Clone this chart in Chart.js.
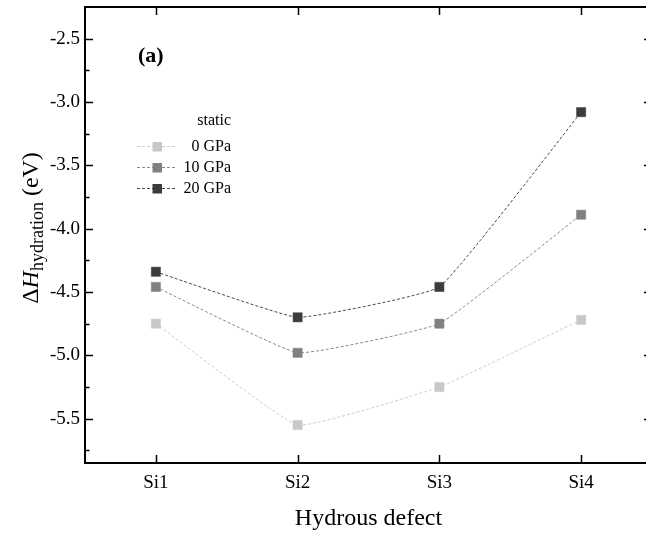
<!DOCTYPE html>
<html><head><meta charset="utf-8">
<script src="https://cdn.jsdelivr.net/npm/chart.js@4.4.1/dist/chart.umd.min.js"></script>
<style>
html,body{margin:0;padding:0;background:#fff;overflow:hidden;width:646px;height:533px}
#wrap{width:662px;height:533px}
</style></head><body>
<div id="wrap"><canvas id="c" width="662" height="533"></canvas></div>
<script>
const categories = ['Si1', 'Si2', 'Si3', 'Si4'];
const seriesNames = ['0 GPa', '10 GPa', '20 GPa'];
const gpa0 = [-4.75, -5.55, -5.25, -4.72];
const gpa10 = [-4.46, -4.98, -4.75, -3.89];
const gpa20 = [-4.34, -4.70, -4.46, -3.08];
const yTicks = [-5.5, -5.0, -4.5, -4.0, -3.5, -3.0, -2.5];
const yMinorTicks = [-5.75, -5.25, -4.75, -4.25, -3.75, -3.25, -2.75];
const yMin = -5.85, yMax = -2.25;
const legendTitle = 'static';
const panelLabel = '(a)';

const markerColors = ['#c8c8c8', '#808080', '#3c3c3c'];
const lineColors = ['#cdcdcd', '#8a8a8a', '#4a4a4a'];
const FONT = 'Liberation Serif';

function mkDataset(i, data) {
  return {
    label: seriesNames[i], data: data,
    borderColor: lineColors[i], borderWidth: 1, borderDash: [3, 2],
    backgroundColor: markerColors[i],
    pointStyle: 'rect', pointRadius: 6.5, pointHoverRadius: 6.5,
    pointBackgroundColor: markerColors[i], pointBorderColor: markerColors[i], pointBorderWidth: 0.5,
    tension: 0.1, clip: false
  };
}

const framePlugin = {
  id: 'frame',
  afterDraw(chart) {
    const ctx = chart.ctx, a = chart.chartArea;
    const xs = chart.scales.x, ys = chart.scales.y;
    ctx.save();
    ctx.strokeStyle = '#000';
    ctx.lineWidth = 1.5;
    ctx.beginPath();
    yTicks.forEach(v => {
      const y = Math.round(ys.getPixelForValue(v)) + 0.5;
      ctx.moveTo(a.left, y); ctx.lineTo(a.left + 8, y);
      ctx.moveTo(a.right, y); ctx.lineTo(a.right - 8, y);
    });
    yMinorTicks.forEach(v => {
      const y = Math.round(ys.getPixelForValue(v)) + 0.5;
      ctx.moveTo(a.left, y); ctx.lineTo(a.left + 4.5, y);
      ctx.moveTo(a.right, y); ctx.lineTo(a.right - 4.5, y);
    });
    categories.forEach((c, i) => {
      const x = Math.round(xs.getPixelForValue(i)) + 0.5;
      ctx.moveTo(x, a.bottom); ctx.lineTo(x, a.bottom - 8);
      ctx.moveTo(x, a.top); ctx.lineTo(x, a.top + 8);
    });
    ctx.stroke();
    ctx.lineWidth = 2;
    ctx.strokeRect(a.left, a.top, a.right - a.left, a.bottom - a.top);

    // y-axis title: ΔH_hydration (eV)
    const cy = (a.top + a.bottom) / 2 - 7;
    const mainF = '24px "' + FONT + '"', italF = 'italic 24px "' + FONT + '"', subF = '18px "' + FONT + '"';
    const parts = [
      { t: 'Δ', f: mainF, dy: 0 },
      { t: 'H', f: italF, dy: 0 },
      { t: 'hydration', f: subF, dy: 5 },
      { t: ' (eV)', f: mainF, dy: 0 }
    ];
    let total = 0;
    parts.forEach(p => { ctx.font = p.f; p.w = ctx.measureText(p.t).width; total += p.w; });
    ctx.translate(38, cy);
    ctx.rotate(-Math.PI / 2);
    ctx.fillStyle = '#000';
    ctx.textBaseline = 'alphabetic';
    ctx.textAlign = 'left';
    let xx = -total / 2;
    parts.forEach(p => { ctx.font = p.f; ctx.fillText(p.t, xx, p.dy); xx += p.w; });
    ctx.restore();

    // panel label
    ctx.save();
    ctx.fillStyle = '#000';
    ctx.font = 'bold 22px "' + FONT + '"';
    ctx.textBaseline = 'middle';
    ctx.textAlign = 'left';
    ctx.fillText(panelLabel, a.left + 53, a.top + 49);

    // legend
    const lx0 = a.left + 52, lx1 = a.left + 92, lm = a.left + 72, tr = a.left + 146;
    ctx.font = '16px "' + FONT + '"';
    ctx.textAlign = 'right';
    ctx.fillText(legendTitle, tr, a.top + 114);
    chart.data.datasets.forEach((ds, i) => {
      const y = a.top + 139 + i * 21;
      ctx.strokeStyle = ds.borderColor;
      ctx.lineWidth = 1;
      ctx.setLineDash([3, 2]);
      ctx.beginPath(); ctx.moveTo(lx0, y + 0.5); ctx.lineTo(lx1, y + 0.5); ctx.stroke();
      ctx.setLineDash([]);
      ctx.fillStyle = ds.pointBackgroundColor;
      ctx.fillRect(lm - 4.5, y - 4, 9.5, 9.5);
      ctx.fillStyle = '#000';
      ctx.fillText(ds.label, tr, y + 1);
    });
    ctx.restore();
  }
};

Chart.defaults.font.family = FONT;
new Chart(document.getElementById('c'), {
  type: 'line',
  data: {
    labels: categories,
    datasets: [mkDataset(0, gpa0), mkDataset(1, gpa10), mkDataset(2, gpa20)]
  },
  options: {
    responsive: false, animation: false,
    layout: { padding: { top: 7, right: 10, left: 0, bottom: 0 } },
    plugins: { legend: { display: false }, tooltip: { enabled: false } },
    scales: {
      x: {
        type: 'category', offset: true,
        grid: { display: false, drawTicks: false }, border: { display: false },
        ticks: { color: '#000', font: { size: 19 }, padding: 9, maxRotation: 0, autoSkip: false },
        title: { display: true, text: 'Hydrous defect', color: '#000', font: { size: 24 }, padding: { top: 0, bottom: 0 } },
        afterFit: s => { s.height = 70; s.paddingLeft = 0; s.paddingRight = 0; }
      },
      y: {
        type: 'linear', min: yMin, max: yMax,
        grid: { display: false, drawTicks: false }, border: { display: false },
        afterBuildTicks: s => { s.ticks = yTicks.map(v => ({ value: v })); },
        ticks: { color: '#000', font: { size: 19 }, padding: 5, callback: v => Number(v).toFixed(1) },
        afterFit: s => { s.width = 85; s.paddingTop = 0; s.paddingBottom = 0; }
      }
    }
  },
  plugins: [framePlugin]
});
</script>
</body></html>
